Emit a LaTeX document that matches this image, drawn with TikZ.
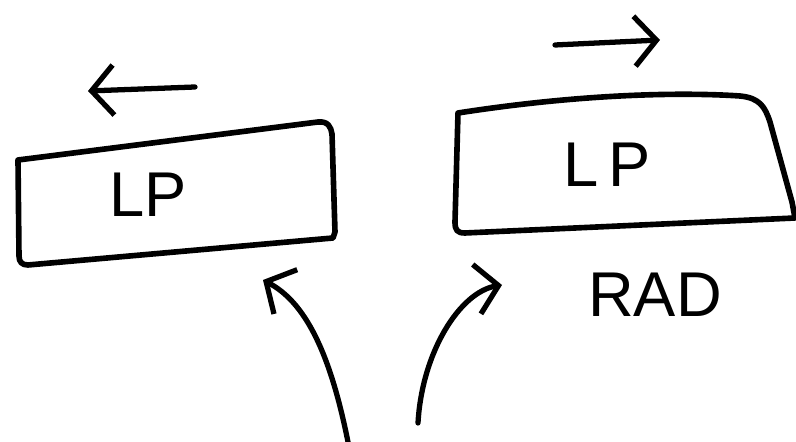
\documentclass[tikz,border=0pt]{standalone}
\usepackage{fontspec}
\setmainfont{Liberation Sans}
\usetikzlibrary{arrows.meta}

\begin{document}
\begin{tikzpicture}[
    kotak/.style={line width=1.6pt, line join=round},
    panah/.style={line width=1.5pt, line cap=round, -{Straight Barb[length=2.2mm,width=5mm,line width=1.5pt]}},
    label/.style={font=\fontsize{18}{20}\selectfont}
]
    % Batas gambar
    \useasboundingbox (0,0) rectangle (7.96,4.42);

    % Gambar kotak kiri
    \draw[kotak] (0.18,2.82) -- (3.18,3.20) .. controls (3.28,3.21) and (3.31,3.15) .. (3.32,3.08) -- (3.35,2.10) -- (3.33,2.04) -- (0.28,1.77) .. controls (0.22,1.77) and (0.19,1.80) .. (0.19,1.86) -- cycle;

    % Gambar kotak kanan
    \draw[kotak] (4.58,3.29) .. controls (5.8,3.48) and (6.8,3.50) .. (7.40,3.46) .. controls (7.60,3.44) and (7.65,3.35) .. (7.70,3.20) -- (7.92,2.40) -- (7.95,2.24) -- (4.65,2.09) .. controls (4.57,2.09) and (4.55,2.12) .. (4.55,2.20) -- cycle;

    % Beri label kotak
    \node[label] (lpkiri) at (1.48,2.47) {LP};
    \node[label] (lpkanan) at (6.07,2.77) {L\,P};
    \node[label] (rad) at (6.55,1.47) {RAD};

    % Tandai titik ujung panah
    \coordinate (kiriA) at (1.95,3.55);
    \coordinate (kiriB) at (0.88,3.51);
    \coordinate (kananA) at (5.55,3.97);
    \coordinate (kananB) at (6.60,4.02);
    \coordinate (bawahA) at (3.48,0.00);
    \coordinate (ujungA) at (2.63,1.62);
    \coordinate (bawahB) at (4.18,0.19);
    \coordinate (ujungB) at (5.02,1.57);

    % Gambar panah arah di atas kotak
    \draw[panah] (kiriA) -- (kiriB);
    \draw[panah] (kananA) -- (kananB);

    % Gambar panah lengkung dari bawah
    \draw[panah] (bawahA) .. controls (3.30,0.90) and (3.05,1.40) .. (ujungA);
    \draw[panah] (bawahB) .. controls (4.22,0.90) and (4.60,1.50) .. (ujungB);

\end{tikzpicture}
\end{document}
